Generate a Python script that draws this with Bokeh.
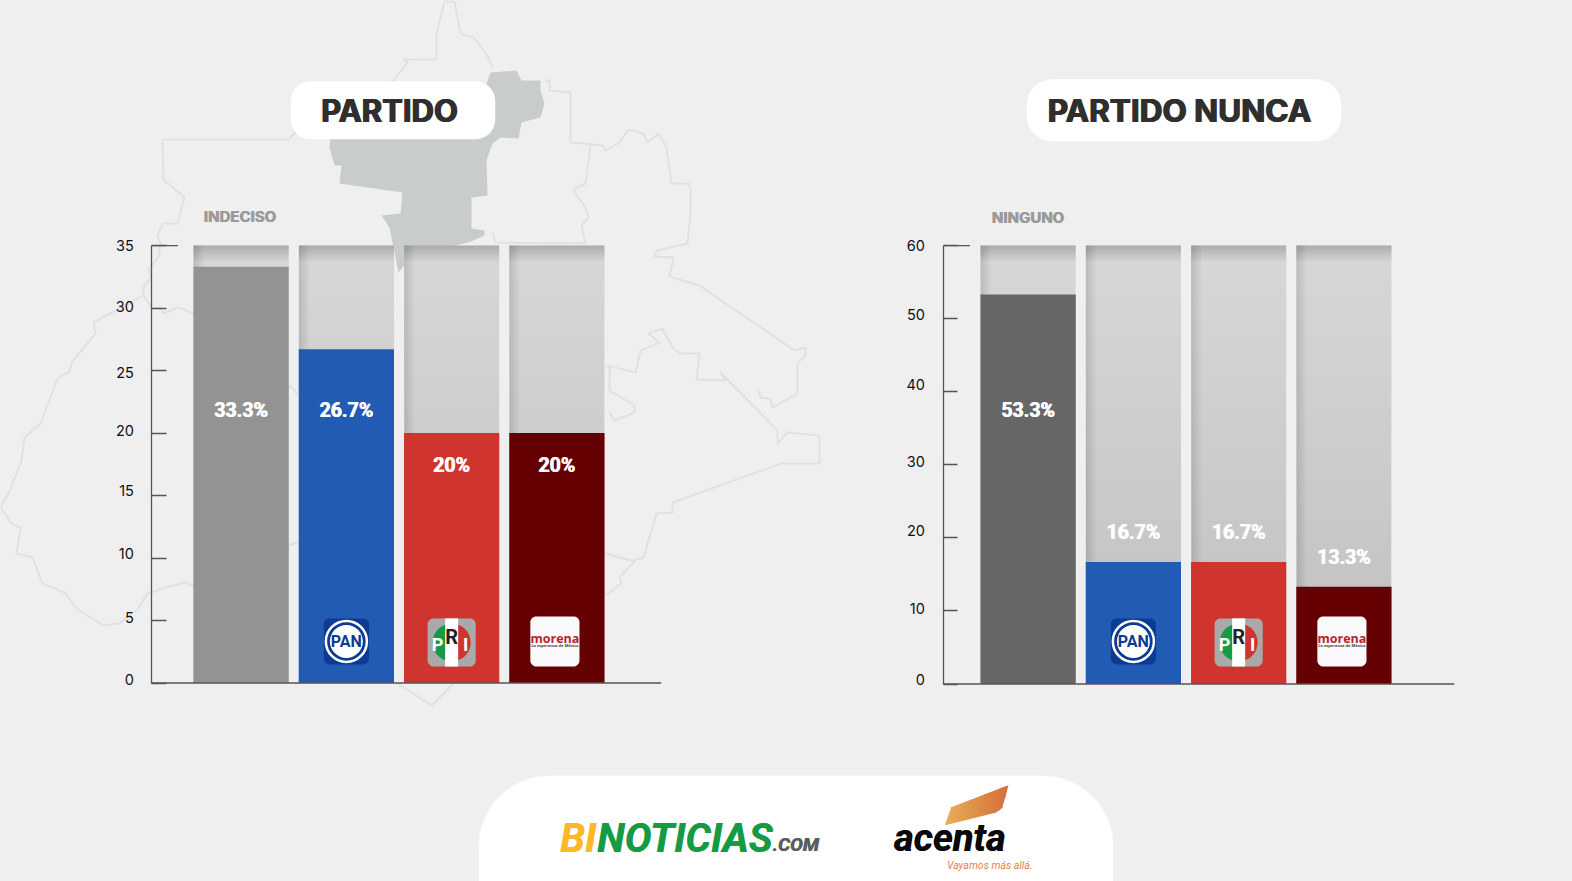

import numpy as np
from bokeh.plotting import figure
from bokeh.models import Range1d, LinearAxis, FixedTicker
from bokeh.core.properties import value
from bokeh.embed import file_html
from bokeh.resources import INLINE

# ---------- data ----------
categories = ["Indeciso", "PAN", "PRI", "Morena"]
partido_values = [33.3, 26.7, 20, 20]
nunca_values = [53.3, 16.7, 16.7, 13.3]
partido_colors = ["#939393", "#215bb3", "#d0342e", "#650003"]
nunca_colors = ["#666666", "#215bb3", "#d0342e", "#650003"]
partido_ticks = [0, 5, 10, 15, 20, 25, 30, 35]
nunca_ticks = [0, 10, 20, 30, 40, 50, 60]
partido_title = "PARTIDO"
nunca_title = "PARTIDO NUNCA"
partido_note = "INDECISO"
nunca_note = "NINGUNO"

# ---------- layout ----------
W_PX, H_PX = 1572, 881      # canvas
W, H = 1568, 879            # working coordinates
BG = "#efefef"
FONT = "Inter"
LINE = "#555555"

def rounded(x0, y0, x1, y1, r, n=10):
    xs, ys = [], []
    for cx, cy, a0 in [(x1 - r, y0 + r, -90), (x1 - r, y1 - r, 0), (x0 + r, y1 - r, 90), (x0 + r, y0 + r, 180)]:
        t = np.radians(np.linspace(a0, a0 + 90, n))
        xs += list(cx + r * np.cos(t))
        ys += list(cy + r * np.sin(t))
    return xs, ys

p = figure(width=W_PX, height=H_PX, x_range=Range1d(0, W), y_range=Range1d(H, 0),
           output_backend="svg", toolbar_location=None, min_border=0,
           background_fill_color=BG, border_fill_color=BG, outline_line_color=None)
p.axis.visible = False
p.grid.visible = False

# ---------- background map ----------
SX, SY = W / W_PX, H / H_PX
map_fill = [(490,72),(516,70),(521,80),(540,80),(540,90),(544,103),(540,117),(521,122),(518,138),(500,137),(492,143),
            (486,160),(487,195),(471,197),(471,228),(484,230),(484,235),(468,242),(455,245),(406,262),(398,272),
            (389,227),(381,215),(400,213),(402,192),(339,183),(341,165),(334,165),(329,147),(331,130),(480,100)]
p.patch([q[0] * SX for q in map_fill], [q[1] * SY for q in map_fill], fill_color="#c8cdcc", line_color=None)

map_lines = [
    [(193,586),(185,582),(164,587),(146,594),(138,608),(119,623),(103,625),(79,610),(74,605),(64,592),(42,583),(32,557),
     (16,553),(20,527),(11,523),(0,507),(8,493),(16,473),(21,460),(24,437),(40,423),(57,378),(69,371),(71,362),(95,333),
     (93,322),(143,295),(143,287),(150,277),(148,268),(158,257),(160,243),(157,235),(162,223),(177,223),(184,197),(163,179),
     (162,139),(288,139),(294,133),(393,80),(407,62),(403,59),(436,59),(436,33),(444,1),(454,1),(460,33),(473,37),(487,55),(492,67)],
    [(143,295),(152,308),(160,307),(163,313),(178,307),(193,313)],
    [(545,80),(549,80),(549,90),(570,92),(570,142),(603,145),(605,150),(619,142),(628,129),(643,133),(647,142),(658,133),
     (666,147),(671,183),(688,183),(690,188),(690,213),(687,243),(656,250),(654,256),(673,257),(669,276),(699,285),(794,350),
     (805,347),(805,355),(797,362),(797,393),(772,407),(770,398),(760,397),(757,388)],
    [(590,145),(585,183),(573,189),(585,207),(588,217),(581,225),(585,243)],
    [(492,232),(495,242),(585,243)],
    [(606,365),(635,372),(640,350),(659,342),(648,333),(662,328),(672,347),(680,353),(699,353),(696,379),(725,380),(720,372),
     (777,430),(777,443),(787,432),(819,435),(819,463),(781,463),(672,502),(672,512),(656,513),(643,557),(630,560),(605,553)],
    [(609,365),(609,390),(634,405),(634,412),(614,420),(609,412)],
    [(630,560),(635,560),(619,577),(621,582),(606,595)],
    [(397,683),(431,705),(453,683)],
    [(288,389),(290,385),(298,395)],
    [(288,545),(298,541)],
]
p.multi_line([[q[0] * SX for q in l] for l in map_lines], [[q[1] * SY for q in l] for l in map_lines],
             line_color="#e1e1e1", line_width=2)

# ---------- charts ----------
BAR_W = 95
STEP = 105.0

def chart(name, cats, vals, colors, ticks, label_lift, top_value, ax_x, ax_end, zero_y, top_y, bar0, label_ys,
          note, note_xy, tick_len, standoff):
    p.extra_x_ranges[name] = Range1d(-bar0 / STEP, (W - bar0) / STEP)
    k = (zero_y - top_y) / top_value
    p.extra_y_ranges[name] = Range1d(-(H - zero_y) / k, zero_y / k)
    idx = list(range(len(cats)))
    bw = BAR_W / STEP

    # pale track behind each bar; nested translucent layers give its soft shading
    p.vbar(x=idx, width=bw, bottom=0, top=top_value, fill_color="#d8d7d8", line_color=None,
           x_range_name=name, y_range_name=name)
    bands = 24
    for i in idx:
        cx = bar0 + i * STEP
        l, r = cx - BAR_W / 2, cx + BAR_W / 2
        for b in range(1, bands):
            p.quad(left=l, right=r, top=top_y + b * (zero_y - top_y) / bands, bottom=zero_y,
                   fill_color="#000000", fill_alpha=0.0055, line_color=None)
        for s in range(1, 9):
            p.quad(left=l, right=r, top=top_y, bottom=top_y + 2 * s, fill_color="#000000",
                   fill_alpha=0.022, line_color=None)
        for s in range(1, 6):
            p.quad(left=l, right=l + 2 * s, top=top_y, bottom=zero_y, fill_color="#000000",
                   fill_alpha=0.024, line_color=None)

    p.vbar(x=idx, width=bw, bottom=0, top=vals, fill_color=colors, line_color=None,
           x_range_name=name, y_range_name=name)

    # value labels
    for i, v in enumerate(vals):
        txt = f"{v:g}%"
        for dx in (-0.4, 0.4):
            p.text([bar0 + i * STEP + dx], [label_ys[i]], text=[txt], text_color="#ffffff",
                   text_font=value("Roboto"), text_font_style="bold", text_font_size="19.5px",
                   text_align="center", text_baseline="middle")

    # axis: line and ticks
    yaxis = LinearAxis(y_range_name=name, fixed_location=ax_x, ticker=FixedTicker(ticks=ticks),
                       bounds=(0, top_value), axis_line_color=LINE, axis_line_width=1.3,
                       major_tick_in=tick_len, major_tick_out=0, minor_tick_line_color=None,
                       major_tick_line_color=LINE, major_tick_line_width=1.3,
                       major_label_overrides={t: "" for t in ticks})
    p.add_layout(yaxis, "left")
    # axis: its labels, each sitting slightly above its tick as in the source
    pos = [t + lift / k for t, lift in zip(ticks, label_lift)]
    laxis = LinearAxis(y_range_name=name, fixed_location=ax_x, ticker=FixedTicker(ticks=pos),
                       axis_line_color=None, major_tick_line_color=None, minor_tick_line_color=None,
                       major_tick_in=0, major_tick_out=0, major_label_standoff=standoff,
                       major_label_text_font=FONT, major_label_text_font_size="14.5px",
                       major_label_text_color="#111111",
                       major_label_overrides={q: str(t) for q, t in zip(pos, ticks)})
    p.add_layout(laxis, "left")
    p.segment(x0=[ax_x], x1=[ax_x + 26], y0=[top_y], y1=[top_y], line_color=LINE, line_width=1.3)
    p.segment(x0=[ax_x], x1=[ax_end], y0=[zero_y], y1=[zero_y], line_color=LINE, line_width=1.5)

    # note above the first bar
    for dx in (-0.35, 0.35):
        p.text([note_xy[0] + dx], [note_xy[1]], text=[note], text_color="#9a9a9a", text_font=value(FONT),
               text_font_style="bold", text_font_size="15px", text_align="center", text_baseline="middle")

    # party logos
    ly = 639.5
    c = bar0 + STEP
    ps, py = rounded(c - 22.5, ly - 23, c + 22.5, ly + 23, 6)
    p.patch(ps, py, fill_color="#0c3a94", line_color=None)
    p.scatter([c], [ly], size=41, marker="circle", fill_color="#0c3a94", line_color="#ffffff", line_width=2.5)
    p.scatter([c], [ly], size=33, marker="circle", fill_color="#ffffff", line_color=None)
    p.text([c], [ly], text=["PAN"], text_color="#0c3a94", text_font=value("Roboto"), text_font_style="bold",
           text_font_size="16px", text_align="center", text_baseline="middle")

    c = bar0 + 2 * STEP
    ps, py = rounded(c - 24, ly - 23, c + 24, ly + 25, 6)
    p.patch(ps, py, fill_color="#a9a9a9", line_color=None)
    p.wedge([c], [ly + 1], radius=19, start_angle=np.pi / 2, end_angle=3 * np.pi / 2, fill_color="#159b45", line_color=None,
            radius_units="screen")
    p.wedge([c], [ly + 1], radius=19, start_angle=-np.pi / 2, end_angle=np.pi / 2, fill_color="#d0342e", line_color=None,
            radius_units="screen")
    p.quad(left=c - 6.5, right=c + 6.5, top=ly - 23, bottom=ly + 25, fill_color="#ffffff", line_color=None)
    for t, dx, col, dy, fs in [("P", -14, "#ffffff", 3, "18px"), ("R", 0, "#222222", -4, "20px"), ("I", 14, "#ffffff", 3, "18px")]:
        p.text([c + dx], [ly + dy], text=[t], text_color=col, text_font=value("Roboto"), text_font_style="bold",
               text_font_size=fs, text_align="center", text_baseline="middle")

    c = bar0 + 3 * STEP - 2
    ps, py = rounded(c - 24.5, ly - 25, c + 24.5, ly + 25, 6)
    p.patch(ps, py, fill_color="#fafafa", line_color=None)
    p.text([c], [ly - 3], text=["morena"], text_color="#b3262b", text_font=value("Open Sans"), text_font_style="bold",
           text_font_size="12.5px", text_align="center", text_baseline="middle")
    p.text([c], [ly + 4], text=["La esperanza de México"], text_color="#444444", text_font=value("Open Sans"),
           text_font_style="bold", text_font_size="4px", text_align="center", text_baseline="middle")

chart("L", categories, partido_values, partido_colors, partido_ticks, [4, 3, 5, 4.7, 2.6, -2, 2, 0.5], 35, 151, 659, 681, 244.5, 240,
      [409, 409, 464, 464], partido_note, (239, 216), 15, 18)
chart("R", categories, nunca_values, nunca_colors, nunca_ticks, [5, 2.7, 7.7, 3, 7.7, 3.7, 0], 60, 941, 1450, 682, 244.5, 1025,
      [409, 531, 531, 556], nunca_note, (1025, 217), 14, 19)

# ---------- title pills ----------
for (x0, y0, x1, y1, r, txt, cx, cy, fs) in [(289.5, 80.5, 493.5, 138.5, 20, partido_title, 388, 109.5, "31px"),
                                             (1023.5, 78.5, 1337.5, 140.5, 26, nunca_title, 1176, 109.5, "31.5px")]:
    xs, ys = rounded(x0, y0, x1, y1, r)
    p.patch(xs, ys, fill_color="#ffffff", line_color=None)
    for dx in (-0.7, 0, 0.7):
        p.text([cx + dx], [cy], text=[txt], text_color="#2f2f2f", text_font=value(FONT), text_font_style="bold",
               text_font_size=fs, text_align="center", text_baseline="middle")

# ---------- footer ----------
xs, ys = rounded(477, 773.5, 1110, 1000, 70)
p.patch(xs, ys, fill_color="#ffffff", line_color=None)
LOGO = "Roboto"
for t, x, col, size, y in [("BI", 558, "#fdb924", "40px", 836), ("NOTICIAS", 595, "#159b45", "40px", 836),
                           (".COM", 770, "#5c5c5c", "19px", 842)]:
    for dx in (0, 0.6):
        p.text([x + dx], [y], text=[t], text_color=col, text_font=value(LOGO), text_font_style="bold italic",
               text_font_size=size, text_align="left", text_baseline="middle")
for dx in (0, 0.6):
    p.text([891 + dx], [836], text=["acenta"], text_color="#0a0a0a", text_font=value(LOGO), text_font_style="bold italic",
           text_font_size="38px", text_align="left", text_baseline="middle")
p.text([944], [863], text=["Vayamos más allá."], text_color="#de7f4c", text_font=value(LOGO), text_font_style="italic",
       text_font_size="10.5px", text_align="left", text_baseline="middle")

# acenta swoosh, as thin slices of a left-to-right colour ramp
top_x, top_y_ = [942, 948, 1005], [823, 805, 783]
bot_x, bot_y_ = [942, 994, 1000, 1005], [823, 810, 805, 783]
edges = np.linspace(942, 1005, 22)
ca, cb = np.array([0xe8, 0xb0, 0x58]), np.array([0xd5, 0x6e, 0x3a])
for i in range(len(edges) - 1):
    a, b = edges[i], edges[i + 1] + 0.4
    t = (i + 0.5) / (len(edges) - 1)
    col = "#%02x%02x%02x" % tuple(int(v) for v in ca + (cb - ca) * t)
    p.patch([a, b, b, a], [np.interp(a, top_x, top_y_), np.interp(b, top_x, top_y_),
                           np.interp(b, bot_x, bot_y_), np.interp(a, bot_x, bot_y_)],
            fill_color=col, line_color=None)

html = file_html(p, INLINE)
html = html.replace("<body>", f'<body style="margin:0;background:{BG};overflow:hidden">')
open("out.html", "w").write(html)
